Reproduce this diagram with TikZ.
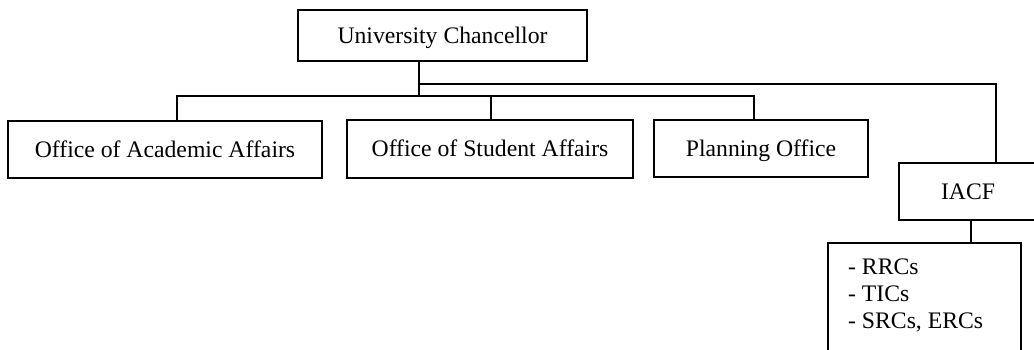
\documentclass[tikz,border=0pt]{standalone}
\usepackage{fontspec}
\setmainfont{Liberation Serif}
\begin{document}
\begin{tikzpicture}[x=1pt,y=-1pt,
  line width=2.3pt,
  box/.style={draw, line width=2.3pt, inner sep=0pt,
    text height=18pt, text depth=3pt,
    font=\fontsize{23.7}{27}\selectfont},
  wire/.style={draw, line width=2.3pt}]
\useasboundingbox (0,0) rectangle (1034,349);

% boxes
\node[box, minimum width=289pt, minimum height=51pt] (uc) at (442.5,35.5) {University Chancellor};
\node[box, minimum width=314pt, minimum height=57pt] (aa) at (165,149.5) {Office of Academic Affairs};
\node[box, minimum width=286pt, minimum height=58pt] (sa) at (490,149) {Office of Student Affairs};
\node[box, minimum width=214pt, minimum height=57pt] (po) at (761,148.5) {Planning Office};
\node[box, minimum width=138pt, minimum height=57pt] (iacf) at (968,191.5) {IACF};
\node[draw, line width=2.3pt, minimum width=193pt, minimum height=130pt,
  anchor=north west] (lst) at (827,242) {};
\node[anchor=base west, align=left, inner sep=0pt,
  font=\fontsize{23.7}{27}\selectfont] (lsttext) at (847,328) {- RRCs\\- TICs\\- SRCs, ERCs};

% junction points of the connectors
\coordinate (j1) at (419,96);
\coordinate (j2) at (419,84);
\coordinate (r) at (996,84);
\coordinate (la) at (177,96);
\coordinate (ls) at (491,96);
\coordinate (lp) at (754,96);
\coordinate (li) at (971,0);

% connectors
\draw[wire] (uc.south -| j1) -- (j1);
\draw[wire] (j2) -- (r) -- (r |- iacf.north);
\draw[wire] (la |- aa.north) -- (la) -- (lp) -- (lp |- po.north);
\draw[wire] (ls) -- (ls |- sa.north);
\draw[wire] (li |- iacf.south) -- (li |- lst.north);
\end{tikzpicture}
\end{document}
